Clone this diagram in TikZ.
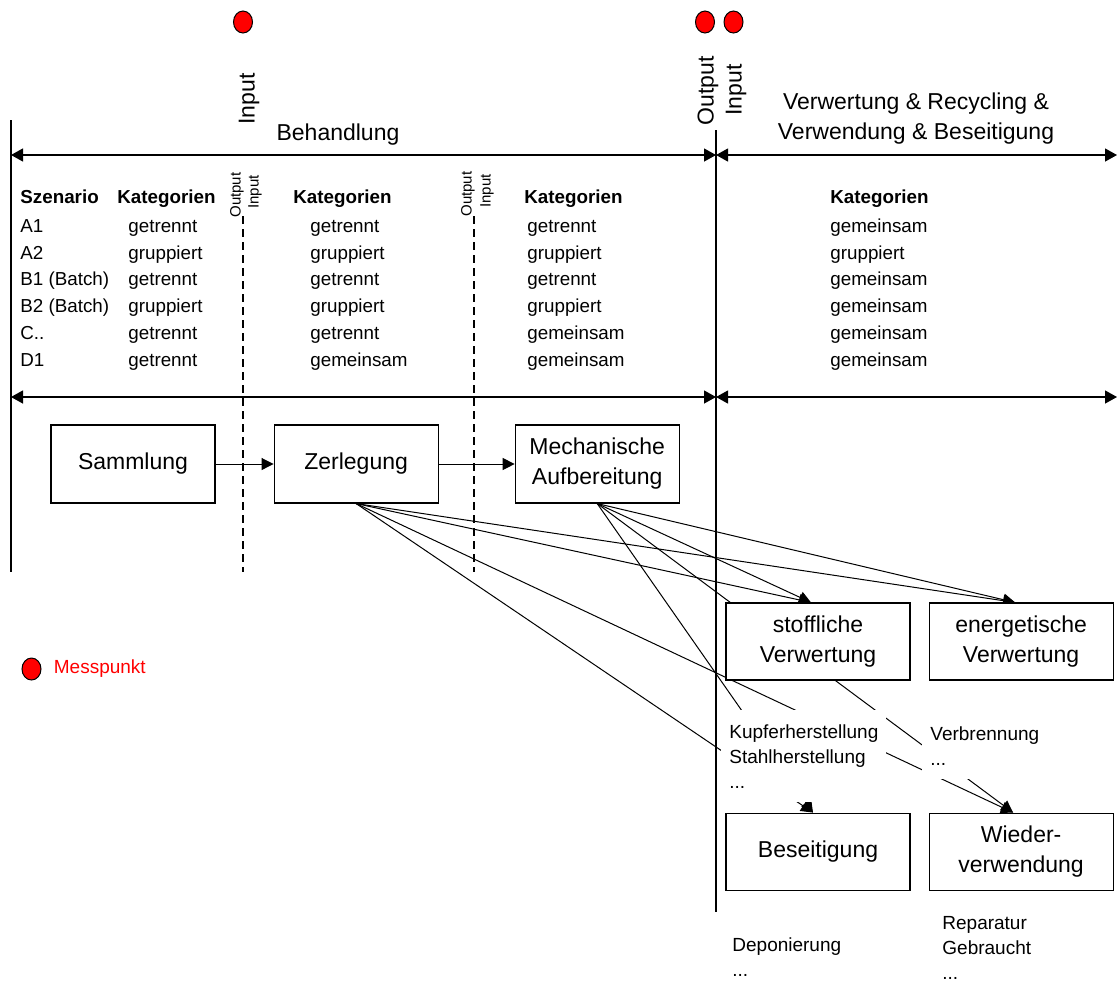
\documentclass[tikz,border=0pt]{standalone}
\usepackage{fontspec}
\setmainfont{Liberation Sans}
\usetikzlibrary{
    shapes.geometric,
    arrows.meta,
    positioning,
    backgrounds
}

\begin{document}
\begin{tikzpicture}[
    x=0.5pt, y=-0.5pt,
    schritt/.style={rectangle, minimum width=82pt, minimum height=39pt,
                    align=center, draw=black, fill=white, line width=0.55pt,
                    font=\fontsize{11.5}{15}\selectfont},
    ziel/.style={schritt, minimum width=92pt, minimum height=38.5pt},
    titel/.style={align=center, font=\fontsize{11.5}{15}\selectfont},
    zelle/.style={anchor=west, inner sep=0pt, text height=1.6ex, text depth=0.4ex,
                  font=\fontsize{9.4}{11}\selectfont},
    kopf/.style={zelle, font=\fontsize{9.4}{11}\selectfont\bfseries},
    liste/.style={align=left, anchor=north west, fill=white, inner xsep=4pt,
                  inner ysep=7pt, font=\fontsize{9.5}{12.5}\selectfont},
    senkrecht/.style={rotate=90, inner sep=1pt, font=\fontsize{11.5}{13}\selectfont},
    klein/.style={rotate=90, inner sep=1pt, font=\fontsize{7.5}{9}\selectfont},
    punkt/.style={ellipse, draw=black, fill=red, minimum width=9.5pt,
                  minimum height=11pt, inner sep=0pt, line width=0.5pt},
    pfeil/.style={-{Triangle[length=6pt,width=6pt]}, line width=0.5pt},
    achse/.style={{Triangle[length=6pt,width=6.5pt]}-{Triangle[length=6pt,width=6.5pt]},
                  line width=0.6pt},
    grenze/.style={line width=0.6pt},
    trenner/.style={dash pattern=on 4pt off 2.5pt, line width=0.7pt}
]

    \useasboundingbox (0,0) rectangle (1118,982);

    \node (mpEingang) [punkt] at (243,22) {};
    \node (mpAusgang) [punkt] at (705,22) {};
    \node (mpVerwertung) [punkt] at (733.5,22) {};

    \node (eingang) [senkrecht] at (249,99) {Input};
    \node (ausgang) [senkrecht] at (708,91) {Output};
    \node (eingangVW) [senkrecht] at (736,90) {Input};
    \node (ausgangA) [klein] at (237,195) {Output};
    \node (eingangA) [klein] at (255,192) {Input};
    \node (ausgangB) [klein] at (468,194) {Output};
    \node (eingangB) [klein] at (487,191) {Input};

    \node (behandlung) [titel] at (338,135) {Behandlung};
    \node (verwertung) [titel] at (916,119) {Verwertung \& Recycling \&\\Verwendung \& Beseitigung};

    \coordinate (linksOben) at (11,120);
    \coordinate (linksUnten) at (11,572);
    \coordinate (mitteOben) at (716,130);
    \coordinate (mitteUnten) at (716,912);
    \coordinate (trennA) at (243,216);
    \coordinate (trennAu) at (243,572);
    \coordinate (trennB) at (474,216);
    \coordinate (trennBu) at (474,572);
    \coordinate (achseOL) at (11,155);
    \coordinate (achseOM) at (716,155);
    \coordinate (achseOR) at (1117,155);
    \coordinate (achseUL) at (11,397);
    \coordinate (achseUM) at (716,397);
    \coordinate (achseUR) at (1117,397);

    \node (szKopf) [kopf] at (20,197) {Szenario};
    \node (kaKopf1) [kopf] at (117,197) {Kategorien};
    \node (kaKopf2) [kopf] at (293,197) {Kategorien};
    \node (kaKopf3) [kopf] at (524,197) {Kategorien};
    \node (kaKopf4) [kopf] at (830,197) {Kategorien};

    \foreach \sz/\ka/\kb/\kc/\kd [count=\i] in {
        A1/getrennt/getrennt/getrennt/gemeinsam,
        A2/gruppiert/gruppiert/gruppiert/gruppiert,
        {B1 (Batch)}/getrennt/getrennt/getrennt/gemeinsam,
        {B2 (Batch)}/gruppiert/gruppiert/gruppiert/gemeinsam,
        {C..}/getrennt/getrennt/gemeinsam/gemeinsam,
        D1/getrennt/gemeinsam/gemeinsam/gemeinsam} {
        \node (sz\i) [zelle] at (20,199.2+26.8*\i) {\sz};
        \node (ka\i) [zelle] at (128,199.2+26.8*\i) {\ka};
        \node (kb\i) [zelle] at (310,199.2+26.8*\i) {\kb};
        \node (kc\i) [zelle] at (527,199.2+26.8*\i) {\kc};
        \node (kd\i) [zelle] at (830,199.2+26.8*\i) {\kd};
    }

    \node (sammlung) [schritt] at (133,464) {Sammlung};
    \node (zerlegung) [schritt, right=29pt of sammlung] {Zerlegung};
    \node (mechanik) [schritt, right=38pt of zerlegung] {Mechanische\\Aufbereitung};

    \node (stofflich) [ziel] at (818,641.5) {stoffliche\\Verwertung};
    \node (energetisch) [ziel, right=9pt of stofflich] {energetische\\Verwertung};
    \node (beseitigung) [ziel, below=66pt of stofflich] {Beseitigung};
    \node (wiederverw) [ziel, right=9pt of beseitigung] {Wieder-\\verwendung};

    \node (verfahren) [liste] at (721,710) {Kupferherstellung\\Stahlherstellung\\...};
    \node (verbrennung) [liste] at (922,712) {Verbrennung\\...};
    \node (deponie) [liste, fill=none] at (724,923) {Deponierung\\...};
    \node (reparatur) [liste, fill=none] at (934,902) {Reparatur\\Gebraucht\\...};

    \node (legende) [punkt] at (31.5,669) {};
    \node (legendeText) [right=6pt of legende, inner sep=0pt, text=red,
                         font=\fontsize{9.5}{11}\selectfont] {Messpunkt};

    \draw [grenze] (linksOben) -- (linksUnten);
    \draw [grenze] (mitteOben) -- (mitteUnten);
    \draw [trenner] (trennA) -- (trennAu);
    \draw [trenner] (trennB) -- (trennBu);
    \draw [achse] (achseOL) -- (achseOM);
    \draw [achse] (achseOM) -- (achseOR);
    \draw [achse] (achseUL) -- (achseUM);
    \draw [achse] (achseUM) -- (achseUR);

    \draw [pfeil] (sammlung) -- (zerlegung);
    \draw [pfeil] (zerlegung) -- (mechanik);

    \begin{scope}[on background layer]
        \foreach \quelle in {zerlegung, mechanik} {
            \draw [pfeil] (\quelle.south) -- ([xshift=-3.5pt]stofflich.north);
            \draw [pfeil] (\quelle.south) -- ([xshift=-3pt]energetisch.north);
            \draw [pfeil] (\quelle.south) -- ([xshift=-2.5pt]beseitigung.north);
            \draw [pfeil] (\quelle.south) -- ([xshift=-4pt]wiederverw.north);
        }
    \end{scope}

\end{tikzpicture}
\end{document}
